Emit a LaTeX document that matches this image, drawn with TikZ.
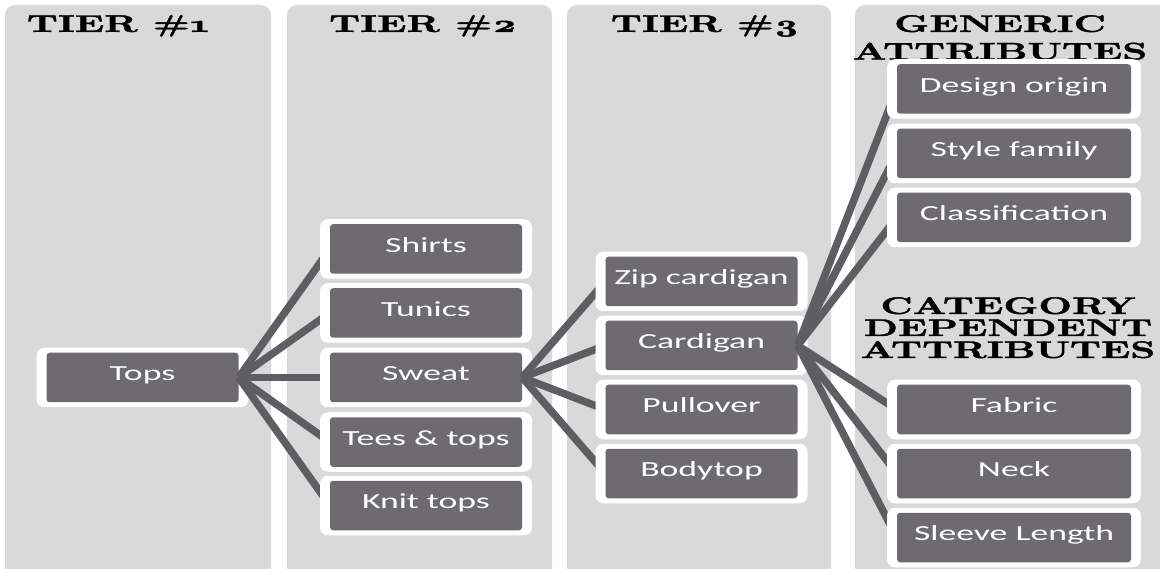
\documentclass[tikz,border=0pt]{standalone}
\usepackage{fontspec}
\usetikzlibrary{calc}
\newfontfamily\headfont[FakeStretch=1.62,FakeBold=1.6,Numbers=OldStyle]{lmroman10-bold.otf}
\newfontfamily\boxfont[FakeStretch=1.66]{Carlito}
\definecolor{panelgray}{RGB}{217,217,217}
\definecolor{boxgray}{RGB}{109,107,112}
\definecolor{linkgray}{RGB}{94,93,98}
\pgfdeclarelayer{panels}
\pgfdeclarelayer{tierone}
\pgfdeclarelayer{linkone}
\pgfdeclarelayer{tiertwo}
\pgfdeclarelayer{linktwo}
\pgfdeclarelayer{tierthree}
\pgfdeclarelayer{linkthree}
\pgfsetlayers{panels,tierone,linkone,tiertwo,linktwo,tierthree,linkthree,main}

\begin{document}
\begin{tikzpicture}[x=1pt,y=-1pt,
        box/.style={shape=rectangle,fill=white,rounded corners=8pt,inner sep=0pt,
          minimum width=212pt,minimum height=59.5pt,text=white,
          font=\boxfont\fontsize{21.5}{24}\selectfont,text height=14pt,text depth=7.5pt,
          path picture={\fill[boxgray,rounded corners=3pt]
            ([shift={(10pt,5pt)}]path picture bounding box.south west) rectangle
            ([shift={(-10pt,-5pt)}]path picture bounding box.north east);}},
        attrbox/.style={box,minimum width=254pt},
        head/.style={font=\headfont\fontsize{24}{27.5}\selectfont,inner sep=0pt,anchor=north,align=center},
        link/.style={draw=linkgray,line width=7.5pt}]
        \useasboundingbox (0,0) rectangle (1160,569);
        \begin{pgfonlayer}{panels}
        \clip (0,0) rectangle (1160,569);
        \fill[panelgray,rounded corners=10pt] (5,5) rectangle (271,600); %%
        \fill[panelgray,rounded corners=10pt] (287,5) rectangle (552,600); %%
        \fill[panelgray,rounded corners=10pt] (567,5) rectangle (831,600); %%
        \fill[panelgray,rounded corners=10pt] (855,5) rectangle (1180,600); %%
        \end{pgfonlayer}
        % column headings
        \node[head] (tier1) at (118,15) {TIER \#1}; %%
        \node[head] (tier2) at (423,15) {TIER \#2}; %%
        \node[head] (tier3) at (705,15) {TIER \#3}; %%
        \node[head] (generic) at (1000,15) {GENERIC\\ATTRIBUTES}; %%
        \node[head,font=\headfont\fontsize{24}{22}\selectfont] (catdep) at (1008,297) {CATEGORY\\DEPENDENT\\ATTRIBUTES}; %%
        % boxes
        \begin{pgfonlayer}{tierone}
        \node[box] (tops) at (142.5,377.5) {Tops}; %%
        \end{pgfonlayer}
        \begin{pgfonlayer}{tiertwo}
        \node[box] (shirts) at (426,249) {Shirts}; %%
        \node[box] (tunics) at (426,313) {Tunics}; %%
        \node[box] (sweat) at (426,377.5) {Sweat}; %%
        \node[box] (tees) at (426,442) {Tees \& tops}; %%
        \node[box] (knit) at (426,505.5) {Knit tops}; %%
        \end{pgfonlayer}
        \begin{pgfonlayer}{tierthree}
        \node[box] (zip) at (701.5,281.5) {Zip cardigan}; %%
        \node[box] (cardigan) at (701.5,345.5) {Cardigan}; %%
        \node[box] (pullover) at (701.5,409.5) {Pullover}; %%
        \node[box] (bodytop) at (701.5,473.5) {Bodytop}; %%
        \end{pgfonlayer}
        \node[attrbox] (origin) at (1014,89) {Design origin}; %%
        \node[attrbox] (family) at (1014,153.5) {Style family}; %%
        \node[attrbox] (classif) at (1014,217.5) {Classification}; %%
        \node[attrbox] (fabric) at (1014,409.5) {Fabric}; %%
        \node[attrbox] (neck) at (1014,473.5) {Neck}; %%
        \node[attrbox] (sleeve) at (1014,537.5) {Sleeve Length}; %%
        % links
        \begin{pgfonlayer}{linkone}
        \draw[link] ([xshift=-10pt]tops.east)--([xshift=10pt]shirts.west); %%
        \draw[link] ([xshift=-10pt]tops.east)--([xshift=10pt]tunics.west); %%
        \draw[link] ([xshift=-10pt]tops.east)--([xshift=10pt]sweat.west); %%
        \draw[link] ([xshift=-10pt]tops.east)--([xshift=10pt]tees.west); %%
        \draw[link] ([xshift=-10pt]tops.east)--([xshift=10pt]knit.west); %%
        \end{pgfonlayer}
        \begin{pgfonlayer}{linktwo}
        \draw[link] ([xshift=-10pt]sweat.east)--([xshift=10pt]zip.west); %%
        \draw[link] ([xshift=-10pt]sweat.east)--([xshift=10pt]cardigan.west); %%
        \draw[link] ([xshift=-10pt]sweat.east)--([xshift=10pt]pullover.west); %%
        \draw[link] ([xshift=-10pt]sweat.east)--([xshift=10pt]bodytop.west); %%
        \end{pgfonlayer}
        \begin{pgfonlayer}{linkthree}
        \draw[link] ([xshift=-10pt]cardigan.east)--([xshift=10pt]origin.west); %%
        \draw[link] ([xshift=-10pt]cardigan.east)--([xshift=10pt]family.west); %%
        \draw[link] ([xshift=-10pt]cardigan.east)--([xshift=10pt]classif.west); %%
        \draw[link] ([xshift=-10pt]cardigan.east)--([xshift=10pt]fabric.west); %%
        \draw[link] ([xshift=-10pt]cardigan.east)--([xshift=10pt]neck.west); %%
        \draw[link] ([xshift=-10pt]cardigan.east)--([xshift=10pt]sleeve.west); %%
        \end{pgfonlayer}
\end{tikzpicture}
\end{document}
